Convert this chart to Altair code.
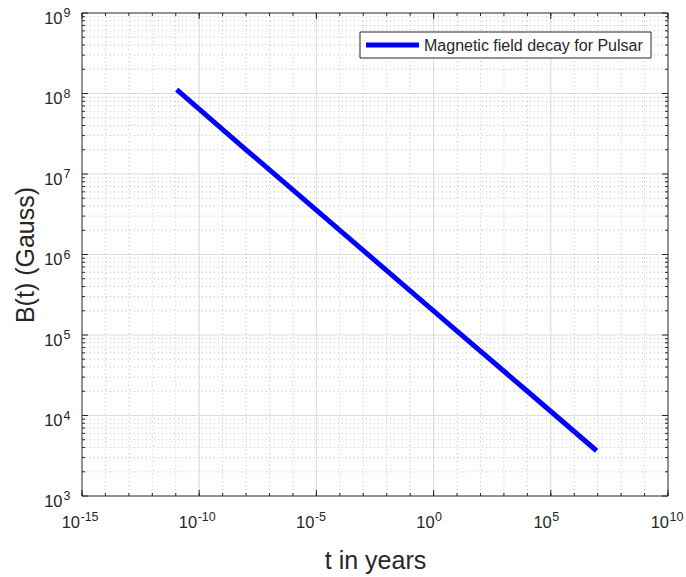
import altair as alt
import pandas as pd

# ---- data ----
t_years = [1.1e-11, 1e-8, 1e-5, 1e-2, 1e1, 1e4, 9e6]
b_gauss = [1.12e8, 2.0e7, 3.56e6, 6.3e5, 1.12e5, 2.0e4, 3.65e3]
series_name = "Magnetic field decay for Pulsar"

x_major_exp = [-15, -10, -5, 0, 5, 10]
x_minor_exp = list(range(-15, 11))
y_major_exp = [3, 4, 5, 6, 7, 8, 9]
y_minor_mult = [2, 3, 4, 5, 6, 7, 8, 9]

W, H = 586, 483
FONT = "Liberation Sans"
TXT = "#262626"
BASE_FS = 16.5
EXP_FS = 12.5

x_major = [10.0 ** e for e in x_major_exp]
x_minor = [10.0 ** e for e in x_minor_exp]
y_major = [10.0 ** e for e in y_major_exp]
y_minor = [m * 10.0 ** e for e in y_major_exp[:-1] for m in y_minor_mult]

xscale = alt.Scale(type="log", domain=[1e-15, 1e10], nice=False)
yscale = alt.Scale(type="log", domain=[1e3, 1e9], nice=False)

df = pd.DataFrame({"t": t_years, "B": b_gauss, "series": series_name})
one = pd.DataFrame({"a": [0]})

xaxis = alt.Axis(values=x_major, labels=False, ticks=False, domain=False, grid=False,
                 title="t in years", titleFont=FONT, titleFontSize=25,
                 titleFontWeight="normal", titleColor=TXT, titleY=72,
                 titleBaseline="alphabetic")
yaxis = alt.Axis(values=y_major, labels=False, ticks=False, domain=False, grid=False,
                 title="B(t) (Gauss)", titleFont=FONT, titleFontSize=25,
                 titleFontWeight="normal", titleColor=TXT, titleX=-49, titleY=H / 2,
                 titleBaseline="alphabetic", titleAngle=270)


def X(field):
    return alt.X(field, scale=xscale, axis=xaxis)


def Y(field):
    return alt.Y(field, scale=yscale, axis=yaxis)


# grids
xminor_df = pd.DataFrame({"v": x_minor[1:-1]})
yminor_df = pd.DataFrame({"v": y_minor})
xmajor_df = pd.DataFrame({"v": x_major[1:-1]})
ymajor_df = pd.DataFrame({"v": y_major[1:-1]})

MINOR = "#c2c2c2"
grid_minor_x = alt.Chart(xminor_df).mark_rule(color=MINOR, strokeWidth=1, strokeDash=[1, 3]).encode(
    x=X("v:Q"), y=alt.value(0), y2=alt.value(H))
grid_minor_y = alt.Chart(yminor_df).mark_rule(color=MINOR, strokeWidth=1, strokeDash=[1, 3]).encode(
    y=Y("v:Q"), x=alt.value(0), x2=alt.value(W))
grid_major_x = alt.Chart(xmajor_df).mark_rule(color="#dcdcdc", strokeWidth=1).encode(
    x=X("v:Q"), y=alt.value(0), y2=alt.value(H))
grid_major_y = alt.Chart(ymajor_df).mark_rule(color="#dcdcdc", strokeWidth=1).encode(
    y=Y("v:Q"), x=alt.value(0), x2=alt.value(W))

line = alt.Chart(df).mark_line(strokeWidth=5, color="#0000ff").encode(
    x=X("t:Q"), y=Y("B:Q"))


def xticks(vals, length):
    d = pd.DataFrame({"v": vals})
    bottom = alt.Chart(d).mark_rule(color=TXT, strokeWidth=1).encode(
        x=X("v:Q"), y=alt.value(H), y2=alt.value(H - length))
    top = alt.Chart(d).mark_rule(color=TXT, strokeWidth=1).encode(
        x=X("v:Q"), y=alt.value(0), y2=alt.value(length))
    return [bottom, top]


def yticks(vals, length):
    d = pd.DataFrame({"v": vals})
    left = alt.Chart(d).mark_rule(color=TXT, strokeWidth=1).encode(
        y=Y("v:Q"), x=alt.value(0), x2=alt.value(length))
    right = alt.Chart(d).mark_rule(color=TXT, strokeWidth=1).encode(
        y=Y("v:Q"), x=alt.value(W), x2=alt.value(W - length))
    return [left, right]


ticks = xticks(x_minor, 3) + xticks(x_major, 6) + yticks(y_minor, 3) + yticks(y_major, 6)

# tick labels: "10" plus a raised exponent
def x_labels(exps, dx_base, dx_exp):
    d = pd.DataFrame({"v": [10.0 ** e for e in exps],
                      "base": ["10"] * len(exps),
                      "exp": [str(e) for e in exps]})
    base = alt.Chart(d).mark_text(align="right", baseline="alphabetic", font=FONT,
                                  fontSize=BASE_FS, color=TXT, dx=dx_base).encode(
        x=X("v:Q"), y=alt.value(H + 32), text="base:N")
    ex = alt.Chart(d).mark_text(align="left", baseline="alphabetic", font=FONT,
                                fontSize=EXP_FS, color=TXT, dx=dx_exp).encode(
        x=X("v:Q"), y=alt.value(H + 25), text="exp:N")
    return [base, ex]


neg_x = [e for e in x_major_exp if e < 0]
pos_x = [e for e in x_major_exp if e >= 0]
xlab = x_labels(neg_x, -2, -1.5) + x_labels(pos_x, 1, 1.5)

yd = pd.DataFrame({"v": y_major, "base": ["10"] * len(y_major),
                   "exp": [str(e) for e in y_major_exp]})
ylab_base = alt.Chart(yd).mark_text(align="right", baseline="alphabetic", font=FONT,
                                    fontSize=BASE_FS, color=TXT, dy=10.5).encode(
    y=Y("v:Q"), x=alt.value(-19.5), text="base:N")
ylab_exp = alt.Chart(yd).mark_text(align="left", baseline="alphabetic", font=FONT,
                                   fontSize=EXP_FS, color=TXT, dy=4).encode(
    y=Y("v:Q"), x=alt.value(-18.5), text="exp:N")

frame = alt.Chart(one).mark_rect(filled=False, stroke=TXT, strokeWidth=1).encode(
    x=alt.value(0), x2=alt.value(W), y=alt.value(0), y2=alt.value(H))

# legend box
leg_box = alt.Chart(one).mark_rect(fill="white", stroke=TXT, strokeWidth=1).encode(
    x=alt.value(278), x2=alt.value(569), y=alt.value(19), y2=alt.value(45))
leg_line = alt.Chart(one).mark_rule(color="#0000ff", strokeWidth=5).encode(
    x=alt.value(284), x2=alt.value(337), y=alt.value(32))
leg_text = alt.Chart(pd.DataFrame({"s": [series_name]})).mark_text(
    align="left", baseline="middle", font=FONT, fontSize=16, color=TXT).encode(
    x=alt.value(342), y=alt.value(32.5), text="s:N")

chart = alt.layer(
    grid_minor_x, grid_minor_y, grid_major_x, grid_major_y,
    line, *ticks, *xlab, ylab_base, ylab_exp, frame, leg_box, leg_line, leg_text
).properties(
    width=W, height=H,
    padding={"left": 82, "top": 13, "right": 18, "bottom": 81},
    autosize=alt.AutoSizeParams(type="none"),
    background="white",
).configure_view(stroke=None)

chart.save("out.html", embed_options={"renderer": "svg", "actions": False})
